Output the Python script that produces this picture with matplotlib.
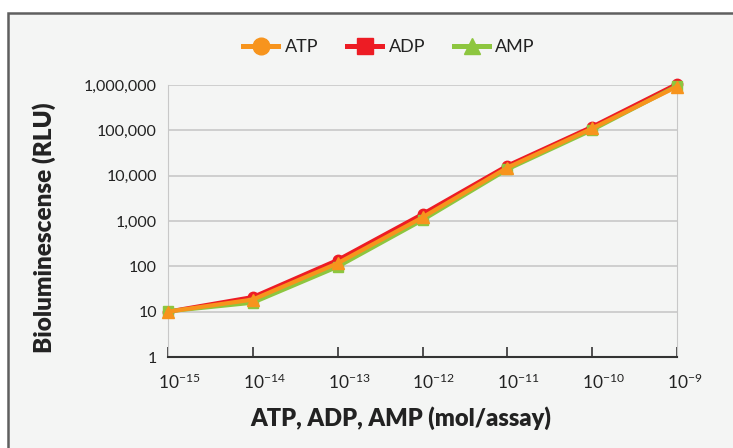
import matplotlib
matplotlib.use('Agg')
import matplotlib.pyplot as plt
from matplotlib.patches import Rectangle
from matplotlib.lines import Line2D
from matplotlib.ticker import FuncFormatter
from matplotlib.transforms import ScaledTranslation

plt.rcParams['font.family'] = ['Lato', 'DejaVu Sans']
plt.rcParams['mathtext.fontset'] = 'custom'
plt.rcParams['mathtext.rm'] = 'Lato'
plt.rcParams['mathtext.default'] = 'regular'

# mol/assay
conc = [1e-15, 1e-14, 1e-13, 1e-12, 1e-11, 1e-10, 1e-9]
exps = [-15, -14, -13, -12, -11, -10, -9]
atp = [10, 18.5, 117, 1200, 15000, 110000, 920000]
adp = [10, 21, 138, 1420, 16600, 120000, 1050000]
amp = [10.2, 15.8, 98, 1050, 13800, 102000, 960000]

bg = '#f4f5f4'
c_atp = '#f7941d'
c_adp = '#ed1c24'
c_amp = '#8dc63f'
txt = '#222222'

fig = plt.figure(figsize=(7.33, 4.48), dpi=100)
fig.patch.set_facecolor('white')
fig.patches.append(Rectangle((8/733, -0.1), 1.1, 1 - 13/448 + 0.1, transform=fig.transFigure,
                             facecolor=bg, edgecolor='#5f5f5f', linewidth=1.8, zorder=-10))

ax = fig.add_axes([168/733, 1 - 357/448, (677 - 168)/733, (357 - 85)/448])
ax.set_facecolor(bg)

# drawing order as in the picture: red under, green, orange on top
ax.plot(conc, adp, color=c_adp, lw=3, marker='o', ms=7.5, zorder=3, clip_on=False)
ax.plot(conc, amp, color=c_amp, lw=3, marker='s', ms=7, zorder=4, clip_on=False)
ax.plot(conc, atp, color=c_atp, lw=3, marker='^', ms=9, zorder=5, clip_on=False)

ax.set_xscale('log')
ax.set_yscale('log')
ax.set_xlim(1e-15, 1e-9)
ax.set_ylim(1, 1e6)
ax.set_yticks([1, 10, 100, 1000, 10000, 100000, 1000000])
ax.yaxis.set_major_formatter(FuncFormatter(lambda v, p: '{:,.0f}'.format(v)))
ax.set_xticks(conc)
ax.set_xticklabels([r'$10^{%d}$' % e for e in exps])
ax.minorticks_off()
ax.grid(axis='y', color='#c8c8c8', lw=1.2)
ax.set_axisbelow(True)

ax.spines['top'].set_visible(False)
ax.spines['left'].set_color('#c8c8c8')
ax.spines['right'].set_color('#c8c8c8')
ax.spines['bottom'].set_color('#333333')
ax.spines['bottom'].set_linewidth(1.5)
ax.tick_params(axis='y', length=0, labelsize=11.5, colors=txt, pad=8)
ax.tick_params(axis='x', direction='in', length=7, width=1.2, color='#333333',
               labelsize=12.5, labelcolor=txt, pad=11)

# "10" centred on the tick, exponent hanging to the right
shift = ScaledTranslation(-10/100, 0, fig.dpi_scale_trans)
for lab in ax.get_xticklabels():
    lab.set_horizontalalignment('left')
    lab.set_transform(lab.get_transform() + shift)

ax.set_xlabel('ATP, ADP, AMP (mol/assay)', fontsize=17, fontweight='heavy', color=txt)
ax.set_ylabel('Bioluminescense (RLU)', fontsize=17.5, fontweight='heavy', color=txt)
ax.xaxis.set_label_coords(401/733, 1 - 406/448, transform=fig.transFigure)
ax.yaxis.set_label_coords(56/733, 1 - 228/448, transform=fig.transFigure)

handles = [
    Line2D([], [], color=c_atp, lw=3.6, marker='o', ms=12),
    Line2D([], [], color=c_adp, lw=3.6, marker='s', ms=11),
    Line2D([], [], color=c_amp, lw=3.6, marker='^', ms=12),
]
fig.legend(handles, ['ATP', 'ADP', 'AMP'], loc='center', bbox_to_anchor=(389/733, 1 - 47/448),
           ncol=3, frameon=False, fontsize=13, handlelength=1.95, handletextpad=0.35,
           columnspacing=1.6, labelcolor=txt)

fig.savefig('out.png', dpi=100, facecolor='white')
